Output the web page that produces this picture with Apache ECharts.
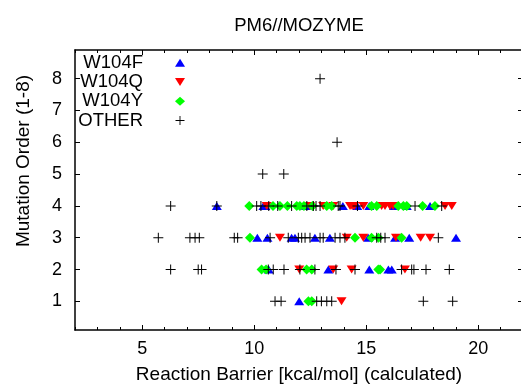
<!DOCTYPE html>
<html>
<head>
<meta charset="utf-8">
<script src="https://cdn.jsdelivr.net/npm/echarts@6/dist/echarts.min.js"></script>
<style>
  html, body { margin: 0; padding: 0; background: #fff; }
  #chart { width: 521px; height: 390px; }
</style>
</head>
<body>
<div id="chart"></div>
<script>
// [reaction barrier (kcal/mol), mutation order]
const w104f = [
  [12.01, 1],
  [10.65, 2], [13.31, 2], [15.14, 2], [15.99, 2], [16.14, 2],
  [10.14, 3], [10.59, 3], [11.67, 3], [11.82, 3], [12.71, 3], [13.38, 3],
  [15.09, 3], [16.29, 3], [16.92, 3], [19.01, 3],
  [8.33, 4], [10.41, 4], [10.5, 4], [12.31, 4], [13.96, 4], [14.6, 4],
  [15.14, 4], [16.24, 4], [16.81, 4], [17.85, 4]
];
const w104q = [
  [13.9, 1],
  [12.01, 2], [13.53, 2], [14.35, 2], [16.73, 2],
  [11.15, 3], [14.13, 3], [14.87, 3], [16.33, 3], [17.43, 3], [17.85, 3],
  [10.56, 4], [12.49, 4], [13.08, 4], [13.53, 4], [14.28, 4], [14.37, 4],
  [14.47, 4], [14.87, 4], [15.69, 4], [15.84, 4], [16.06, 4], [16.2, 4],
  [18.52, 4], [18.82, 4]
];
const w104y = [
  [12.42, 1], [12.57, 1],
  [10.33, 2], [10.53, 2], [12.34, 2], [12.57, 2], [15.54, 2], [15.62, 2],
  [9.81, 3], [14.5, 3], [15.24, 3], [15.55, 3], [16.58, 3],
  [9.78, 4], [10.84, 4], [11.15, 4], [11.48, 4], [11.9, 4], [12.04, 4],
  [12.22, 4], [12.6, 4], [13.24, 4], [13.46, 4], [15.24, 4], [15.47, 4],
  [16.43, 4], [16.66, 4], [16.81, 4], [17.52, 4], [18.07, 4]
];
const other = [
  [10.93, 1], [11.2, 1], [12.79, 1], [13.0, 1], [13.24, 1], [13.46, 1],
  [17.55, 1], [18.86, 1],
  [6.27, 2], [7.5, 2], [7.65, 2], [10.63, 2], [10.85, 2], [11.33, 2],
  [12.04, 2], [12.71, 2], [13.65, 2], [14.5, 2], [16.58, 2], [17.03, 2],
  [17.13, 2], [17.67, 2], [18.71, 2],
  [5.72, 3], [7.13, 3], [7.36, 3], [7.55, 3], [9.11, 3], [9.26, 3],
  [10.71, 3], [11.52, 3], [11.97, 3], [12.12, 3], [12.27, 3], [12.49, 3],
  [12.94, 3], [13.08, 3], [13.61, 3], [13.83, 3], [14.05, 3], [15.47, 3],
  [15.65, 3], [15.84, 3], [18.22, 3],
  [6.27, 4], [8.33, 4], [10.11, 4], [10.3, 4], [10.65, 4], [11.05, 4],
  [11.67, 4], [12.35, 4], [12.64, 4], [12.76, 4], [12.94, 4], [13.75, 4],
  [13.83, 4], [14.61, 4], [17.18, 4], [18.37, 4],
  [10.38, 5], [11.32, 5],
  [13.7, 6],
  [12.94, 8]
];

const xMajor = [5, 10, 15, 20];
const yTicks = [1, 2, 3, 4, 5, 6, 7, 8];

const FONT = '"Liberation Sans", Arial, sans-serif';
const FS = 18;
const NAME_FS = 19;
const PLUS = 'path://M4.5,0H5.5V4.5H10V5.5H5.5V10H4.5V5.5H0V4.5H4.5Z';
const TRI_UP = 'path://M5,0L10,8L0,8Z';
const TRI_DOWN = 'path://M0,0L10,0L5,8Z';

const chart = echarts.init(document.getElementById('chart'), null, { renderer: 'canvas' });

function xAxisDef(pos, major) {
  return {
    type: 'value', position: pos, min: 2, max: 22,
    interval: major ? undefined : 1,
    axisLine: { show: major, onZero: false, lineStyle: { color: '#000', width: 1.5 } },
    axisTick: major
      ? { show: true, inside: true, length: 5, customValues: xMajor, lineStyle: { color: '#000' } }
      : { show: true, inside: true, length: 3, lineStyle: { color: '#000' } },
    axisLabel: major && pos === 'bottom'
      ? { show: true, customValues: xMajor, color: '#000', fontSize: FS, fontFamily: FONT, margin: 10 }
      : { show: false },
    splitLine: { show: false },
  };
}

function yAxisDef(pos) {
  return {
    type: 'value', position: pos, min: 0.1, max: 8.9,
    axisLine: { show: true, onZero: false, lineStyle: { color: '#000', width: 1.5 } },
    axisTick: { show: true, inside: true, length: 5, customValues: yTicks, lineStyle: { color: '#000' } },
    axisLabel: pos === 'left'
      ? { show: true, customValues: yTicks, color: '#000', fontSize: FS, fontFamily: FONT, margin: 13 }
      : { show: false },
    splitLine: { show: false },
  };
}

const xBottom = Object.assign(xAxisDef('bottom', true), {
  name: 'Reaction Barrier [kcal/mol] (calculated)',
  nameLocation: 'middle', nameGap: 35,
  nameTextStyle: { color: '#000', fontSize: NAME_FS, fontFamily: FONT },
});
const yLeft = Object.assign(yAxisDef('left'), {
  name: 'Mutation Order (1-8)',
  nameLocation: 'middle', nameGap: 42,
  nameTextStyle: { color: '#000', fontSize: NAME_FS, fontFamily: FONT, padding: [0, 0, 0, 58] },
});

function scatter(name, data, symbol, color, size) {
  return {
    name, type: 'scatter', data, symbol, symbolSize: size,
    itemStyle: { color, opacity: 1 },
    xAxisIndex: 0, yAxisIndex: 0,
  };
}

chart.setOption({
  animation: false,
  title: {
    text: 'PM6//MOZYME', left: 294, top: 11, textAlign: 'center',
    textStyle: { color: '#000', fontSize: 18.5, fontWeight: 'normal', fontFamily: FONT },
  },
  grid: { left: 75, top: 50, width: 448, height: 280, outerBoundsMode: 'none' },
  legend: {
    orient: 'vertical', left: 72, top: 48, align: 'right', padding: 5,
    itemWidth: 10, itemHeight: 9, itemGap: 0, selectedMode: false,
    formatter: (n) => '{n|' + n + '}{g| }',
    textStyle: {
      color: '#000', fontSize: 18.5, fontFamily: FONT, lineHeight: 19.3,
      rich: {
        n: { width: 66, align: 'right', lineHeight: 19.3, fontSize: 18.5, fontFamily: FONT },
        g: { width: 27, lineHeight: 19.3 },
      },
    },
  },
  xAxis: [xBottom, xAxisDef('bottom', false), xAxisDef('top', true), xAxisDef('top', false)],
  yAxis: [yLeft, yAxisDef('right')],
  series: [
    scatter('W104F', w104f, TRI_UP, '#0000ff', [10, 8]),
    scatter('W104Q', w104q, TRI_DOWN, '#ff0000', [10, 8]),
    scatter('W104Y', w104y, 'diamond', '#00ff00', 10),
    scatter('OTHER', other, PLUS, '#000000', 10),
  ],
});
</script>
</body>
</html>
